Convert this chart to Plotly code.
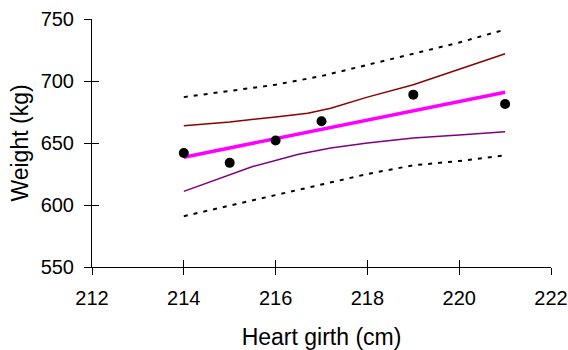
import plotly.graph_objects as go

# observed points
girth = [214, 215, 216, 217, 219, 221]
weight = [642, 634, 652, 667.5, 689, 681.5]

# fitted line and bands
line_x = [214, 215, 216, 217, 218, 219, 220, 221]
fit = [638.5, 646, 653.5, 661, 668.5, 676, 683.5, 691]

ci_x = [214, 215, 216, 216.7, 217.2, 218, 219, 220, 221]
ci_upper = [664, 667, 671, 674, 678, 687, 697, 709.5, 722]
ci_x_lo = [214, 215.5, 216.5, 217.2, 218, 219, 220, 221]
ci_lower = [611, 631, 641, 646, 650, 654, 656.5, 659]

pi_x = [214, 215, 216, 217, 218, 219, 220, 221]
pi_upper = [687, 692, 697, 704, 713, 722, 731, 741.5]
pi_lower = [591, 599.5, 608, 617, 625, 632, 635.5, 640]

font = "Liberation Sans, Arial, sans-serif"
dotted = dict(color="black", width=2, dash="4px,6px")

fig = go.Figure()
fig.add_trace(go.Scatter(x=pi_x, y=pi_upper, mode="lines", line=dotted))
fig.add_trace(go.Scatter(x=pi_x, y=pi_lower, mode="lines", line=dotted))
fig.add_trace(go.Scatter(x=ci_x, y=ci_upper, mode="lines", line=dict(color="#8B0000", width=1.5)))
fig.add_trace(go.Scatter(x=ci_x_lo, y=ci_lower, mode="lines", line=dict(color="#800080", width=1.5)))
fig.add_trace(go.Scatter(x=line_x, y=fit, mode="lines", line=dict(color="#FF00FF", width=3.5)))
fig.add_trace(go.Scatter(x=girth, y=weight, mode="markers",
                         marker=dict(color="black", size=10)))
# invisible trace so the overlay axes (inner half of the ticks) get drawn
fig.add_trace(go.Scatter(x=[212], y=[550], xaxis="x2", yaxis="y2",
                         mode="markers", marker=dict(opacity=0), hoverinfo="skip"))

xticks = [212, 214, 216, 218, 220, 222]
yticks = [550, 600, 650, 700, 750]

fig.update_layout(
    width=568, height=350,
    margin=dict(l=92, r=17, t=19, b=83),
    paper_bgcolor="white", plot_bgcolor="white",
    showlegend=False,
    font=dict(family=font, size=20, color="black"),
    xaxis=dict(range=[212, 222], tickvals=xticks, ticks="outside", ticklen=7,
               tickcolor="black", showline=True, linecolor="black", linewidth=1,
               showgrid=False, zeroline=False, automargin=False, ticklabelstandoff=6,
               ticklabeloverflow="allow",
               title=dict(text="Heart girth (cm)", font=dict(size=23), standoff=20)),
    yaxis=dict(range=[550, 750], tickvals=yticks, ticks="outside", ticklen=7,
               tickcolor="black", showline=True, linecolor="black", linewidth=1,
               showgrid=False, zeroline=False, automargin=False, ticklabelstandoff=6,
               ticklabeloverflow="allow",
               title=dict(text="Weight (kg)", font=dict(size=23), standoff=5)),
    xaxis2=dict(range=[212, 222], tickvals=xticks, ticks="inside", ticklen=7,
                tickcolor="black", showticklabels=False, showgrid=False,
                zeroline=False, overlaying="x", anchor="y2", automargin=False),
    yaxis2=dict(range=[550, 750], tickvals=yticks, ticks="inside", ticklen=7,
                tickcolor="black", showticklabels=False, showgrid=False,
                zeroline=False, overlaying="y", anchor="x2", automargin=False),
)

# drop the default 8px body margin so the figure fills the window
fig.write_html("out.html", config={"displayModeBar": False},
               post_script="document.body.style.margin='0';")
